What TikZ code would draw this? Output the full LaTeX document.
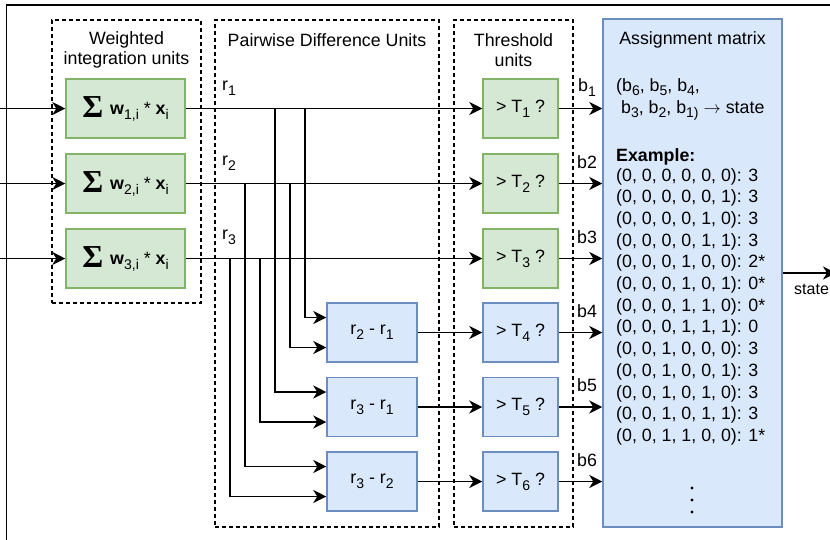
\documentclass[tikz,border=0pt]{standalone}
\usepackage{fontspec}
\setmainfont{Liberation Sans}
\newfontfamily\sigmafont{Liberation Serif}
\usetikzlibrary{arrows.meta}
\definecolor{grnfill}{HTML}{D5E8D4}
\definecolor{grnline}{HTML}{82B366}
\definecolor{blufill}{HTML}{DAE8FC}
\definecolor{bluline}{HTML}{6C8EBF}
\newcommand\sbs[1]{\raisebox{-0.28em}{\fontsize{14}{14}\selectfont #1}}
\newcommand\fs{\fontsize{17.8}{20.5}\selectfont}
\begin{document}
\begin{tikzpicture}[x=1pt,y=-1pt,font=\fs,
  grnbox/.style={draw=grnline,fill=grnfill,line width=1.5pt,inner sep=0pt},
  blubox/.style={draw=bluline,fill=blufill,line width=1.5pt,inner sep=0pt},
  grp/.style={draw=black,line width=1.2pt,dash pattern=on 4pt off 3pt,inner sep=0pt},
  arr/.style={line width=1.6pt,-{Stealth[length=13pt,width=13pt,inset=4pt]}},
  txt/.style={inner sep=0pt}]
\clip (0,0) rectangle (830,539);
% outer frame (cropped)
\draw[line width=1.6pt] (6.5,545) -- (6.5,5) -- (840,5);
% groups
\node[grp,minimum width=149pt,minimum height=283pt] (g1) at (126.5,161.5) {};
\node[grp,minimum width=224pt,minimum height=507pt] (g2) at (327,273.5) {};
\node[grp,minimum width=119pt,minimum height=507pt] (g3) at (513.5,273.5) {};
\node[txt,align=center] (g1t) at (126.5,50) {Weighted\\integration units};
\node[txt] (g2t) at (327,40) {Pairwise Difference Units};
\node[txt,align=center] (g3t) at (513.5,50) {Threshold\\units};
% weighted integration boxes
\foreach \i/\y in {1/108.5,2/183.5,3/258.5}{
  \node[grnbox,minimum width=119pt,minimum height=59pt] (w\i) at (125.5,\y)
    {{\sigmafont\bfseries\fontsize{32}{32}\selectfont\raisebox{-3pt}{Σ}}\hspace{7pt}\textbf{w}\sbs{\i,i} * \textbf{x}\sbs{i}};
  \coordinate (in\i) at (0,\y);
  \draw[arr] (in\i) -- (w\i.west);
}
% threshold boxes
\foreach \i/\y in {1/108.5,2/183.5,3/258.5}{
  \node[grnbox,minimum width=75pt,minimum height=59pt] (t\i) at (520.5,\y) {> T\sbs{\i} ?};
}
\foreach \i/\y in {4/332.5,5/407,6/481.5}{
  \node[blubox,minimum width=75pt,minimum height=59pt] (t\i) at (520.5,\y) {> T\sbs{\i} ?};
}
% difference boxes
\node[blubox,minimum width=90pt,minimum height=59pt] (d1) at (372,332.5) {r\sbs{2} - r\sbs{1}};
\node[blubox,minimum width=90pt,minimum height=59pt] (d2) at (372,407) {r\sbs{3} - r\sbs{1}};
\node[blubox,minimum width=90pt,minimum height=59pt] (d3) at (372,481.5) {r\sbs{3} - r\sbs{2}};
% assignment matrix
\node[blubox,minimum width=179pt,minimum height=508pt] (m) at (692.5,273) {};
\node[txt] (mt) at (692.5,40) {Assignment matrix};
\node[txt,anchor=base west] (h1) at (616,91) {(b\sbs{6}, b\sbs{5}, b\sbs{4},};
\node[txt,anchor=base west] (h2) at (616,113) {\ b\sbs{3}, b\sbs{2}, b\sbs{1)} $\rightarrow$ state};
\node[txt,anchor=base west] (ex) at (616,161) {\textbf{Example:}};
\foreach \t [count=\k from 0] in {{(0, 0, 0, 0, 0, 0): 3},{(0, 0, 0, 0, 0, 1): 3},{(0, 0, 0, 0, 1, 0): 3},{(0, 0, 0, 0, 1, 1): 3},{(0, 0, 0, 1, 0, 0): 2*},{(0, 0, 0, 1, 0, 1): 0*},{(0, 0, 0, 1, 1, 0): 0*},{(0, 0, 0, 1, 1, 1): 0},{(0, 0, 1, 0, 0, 0): 3},{(0, 0, 1, 0, 0, 1): 3},{(0, 0, 1, 0, 1, 0): 3},{(0, 0, 1, 0, 1, 1): 3},{(0, 0, 1, 1, 0, 0): 1*}}{
  \node[txt,anchor=base west] (row\k) at (616,{181.3+21.67*\k}) {\t};
}
\foreach \k/\y in {1/488,2/500,3/512}{
  \fill (692,\y) circle (1.7pt);
}
% r labels
\node[txt,anchor=west] (r1) at (222,88) {r\sbs{1}};
\node[txt,anchor=west] (r2) at (222,163) {r\sbs{2}};
\node[txt,anchor=west] (r3) at (222,237) {r\sbs{3}};
% b labels
\node[txt,anchor=west] (b1) at (578,88) {b\sbs{1}};
\node[txt,anchor=west] (b2) at (577,162) {b2};
\node[txt,anchor=west] (b3) at (577,237) {b3};
\node[txt,anchor=west] (b4) at (577,311) {b4};
\node[txt,anchor=west] (b5) at (577,385) {b5};
\node[txt,anchor=west] (b6) at (577,460) {b6};
% main connectors
\foreach \i in {1,2,3}{ \draw[arr] (w\i.east) -- (t\i.west); }
\draw[arr] (d1.east) -- (t4.west);
\draw[arr] (d2.east) -- (t5.west);
\draw[arr] (d3.east) -- (t6.west);
\foreach \i in {1,...,6}{ \draw[arr] (t\i.east) -- (m.west |- t\i.east); }
% branch columns
\coordinate (c305) at (305,0);
\coordinate (c275) at (275,0);
\coordinate (c290) at (290,0);
\coordinate (c245) at (245,0);
\coordinate (c260) at (260,0);
\coordinate (c230) at (230,0);
\draw[arr] (w1.east -| c305) |- ([yshift=15pt]d1.west);
\draw[arr] (w2.east -| c290) |- ([yshift=-15pt]d1.west);
\draw[arr] (w1.east -| c275) |- ([yshift=15pt]d2.west);
\draw[arr] (w3.east -| c260) |- ([yshift=-15pt]d2.west);
\draw[arr] (w2.east -| c245) |- ([yshift=15pt]d3.west);
\draw[arr] (w3.east -| c230) |- ([yshift=-15pt]d3.west);
% output
\coordinate (out) at (836,273);
\draw[arr] (m.east) -- (out);
\node[txt,anchor=west,font=\fontsize{16}{18}\selectfont] (st) at (794,289) {state};
\end{tikzpicture}
\end{document}
